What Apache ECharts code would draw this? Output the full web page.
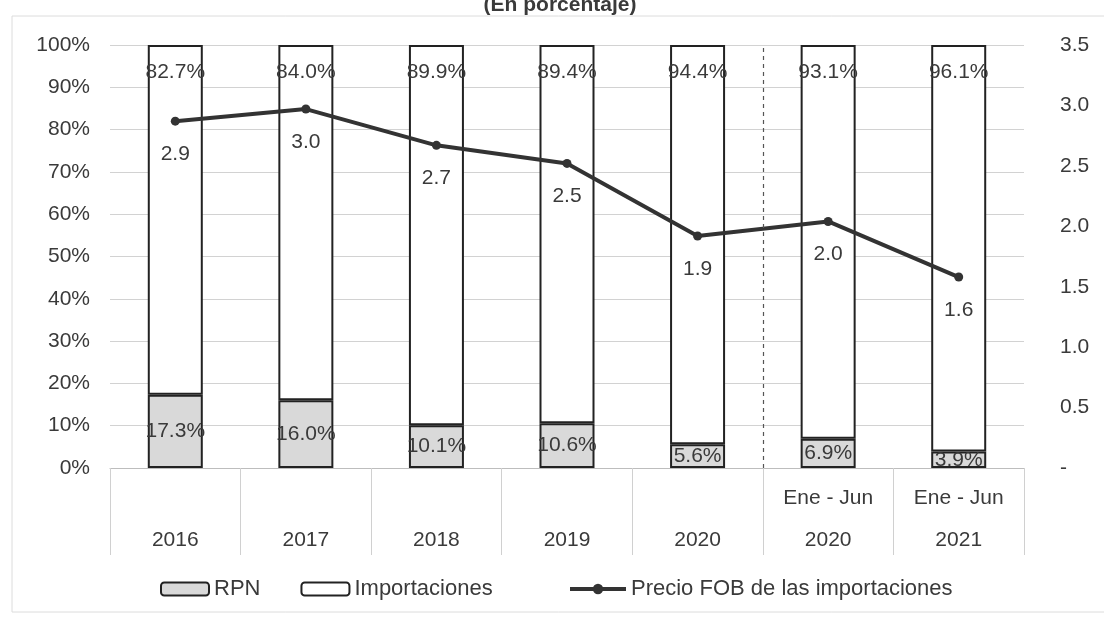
<!DOCTYPE html>
<html>
<head>
<meta charset="utf-8">
<script src="https://cdn.jsdelivr.net/npm/echarts@6/dist/echarts.min.js"></script>
<style>
  html, body { margin: 0; padding: 0; background: #fff; }
  #container { width: 1104px; height: 617px; }
</style>
</head>
<body>
<div id="container"></div>
<script>
const categories = ["2016", "2017", "2018", "2019", "2020", "Ene - Jun\n2020", "Ene - Jun\n2021"];
const rpn = [17.3, 16.0, 10.1, 10.6, 5.6, 6.9, 3.9];
const importaciones = [82.7, 84.0, 89.9, 89.4, 94.4, 93.1, 96.1];
const precioFob = [2.87, 2.97, 2.67, 2.52, 1.92, 2.04, 1.58];
// separator between full years and the Jan-Jun periods (boundary index)
const separatorAt = 5;

const chart = echarts.init(document.getElementById("container"));
const txt = "#3a3a3a";
const font = "Liberation Sans";
const fs = 21;

const legendText = { fontSize: 22, color: txt, fontFamily: font };

const option = {
  backgroundColor: "#fff",
  animation: false,
  textStyle: { fontFamily: font },
  title: {
    text: "(En porcentaje)",
    left: 555,
    textAlign: "center",
    top: -10,
    textStyle: { fontSize: 21, fontWeight: "bold", color: txt, fontFamily: font },
  },
  graphic: [
    {
      type: "rect",
      shape: { x: 12, y: 16, width: 1100, height: 596 },
      style: { fill: "none", stroke: "#dcdcdc", lineWidth: 1 },
      silent: true,
    },
  ],
  grid: { left: 110, right: 80, top: 45, bottom: 149 },
  legend: [
    {
      bottom: 12,
      left: 155,
      itemWidth: 48,
      itemHeight: 13,
      itemGap: 40,
      textStyle: legendText,
      data: ["RPN", "Importaciones"],
    },
    {
      bottom: 12,
      left: 563,
      itemWidth: 56,
      itemHeight: 13,
      textStyle: legendText,
      lineStyle: { width: 4, color: "#333" },
      data: ["Precio FOB de las importaciones"],
    },
  ],
  xAxis: [
    {
      type: "category",
      data: categories,
      axisLine: { lineStyle: { color: "#bdbdbd", width: 1 } },
      axisTick: { show: true, length: 87, interval: 0, lineStyle: { color: "#d0d0d0" } },
      axisLabel: {
        interval: 0,
        margin: 9,
        fontSize: fs,
        lineHeight: 42,
        color: txt,
        formatter: (v) => (v.indexOf("\n") >= 0 ? v : "\n" + v),
      },
      splitLine: { show: false },
    },
    {
      type: "value",
      min: 0,
      max: categories.length,
      show: false,
    },
  ],
  yAxis: [
    {
      type: "value",
      min: 0,
      max: 100,
      interval: 10,
      axisLine: { show: false },
      axisTick: { show: false },
      axisLabel: { formatter: "{value}%", fontSize: fs, color: txt, margin: 20 },
      splitLine: { lineStyle: { color: "#d2d2d2", width: 1 } },
    },
    {
      type: "value",
      min: 0,
      max: 3.5,
      interval: 0.5,
      axisLine: { show: false },
      axisTick: { show: false },
      splitLine: { show: false },
      axisLabel: {
        fontSize: fs,
        color: txt,
        margin: 36,
        formatter: (v) => (v === 0 ? "-" : v.toFixed(1)),
      },
    },
  ],
  series: [
    {
      name: "RPN",
      type: "bar",
      stack: "total",
      barWidth: 55,
      data: rpn,
      itemStyle: { color: "#d9d9d9", borderColor: "#222", borderWidth: 2 },
      label: {
        show: true,
        position: "inside",
        formatter: (p) => p.value.toFixed(1) + "%",
        fontSize: fs,
        color: txt,
      },
    },
    {
      name: "Importaciones",
      type: "bar",
      stack: "total",
      barWidth: 55,
      data: importaciones,
      itemStyle: { color: "#fff", borderColor: "#222", borderWidth: 2 },
      label: {
        show: true,
        position: "insideTop",
        distance: 17,
        formatter: (p) => p.value.toFixed(1) + "%",
        fontSize: fs,
        color: txt,
      },
    },
    {
      name: "Precio FOB de las importaciones",
      type: "line",
      yAxisIndex: 1,
      data: precioFob,
      symbol: "circle",
      symbolSize: 9,
      lineStyle: { color: "#333", width: 4 },
      itemStyle: { color: "#333" },
      label: {
        show: true,
        position: "bottom",
        distance: 18,
        formatter: (p) => p.value.toFixed(1),
        fontSize: fs,
        color: txt,
      },
    },
    {
      name: "separator",
      type: "line",
      xAxisIndex: 1,
      yAxisIndex: 0,
      data: [],
      silent: true,
      markLine: {
        symbol: "none",
        silent: true,
        label: { show: false },
        lineStyle: { color: "#555", type: [4, 4], width: 1.2 },
        data: [{ xAxis: separatorAt }],
      },
    },
  ],
};

chart.setOption(option);
</script>
</body>
</html>
